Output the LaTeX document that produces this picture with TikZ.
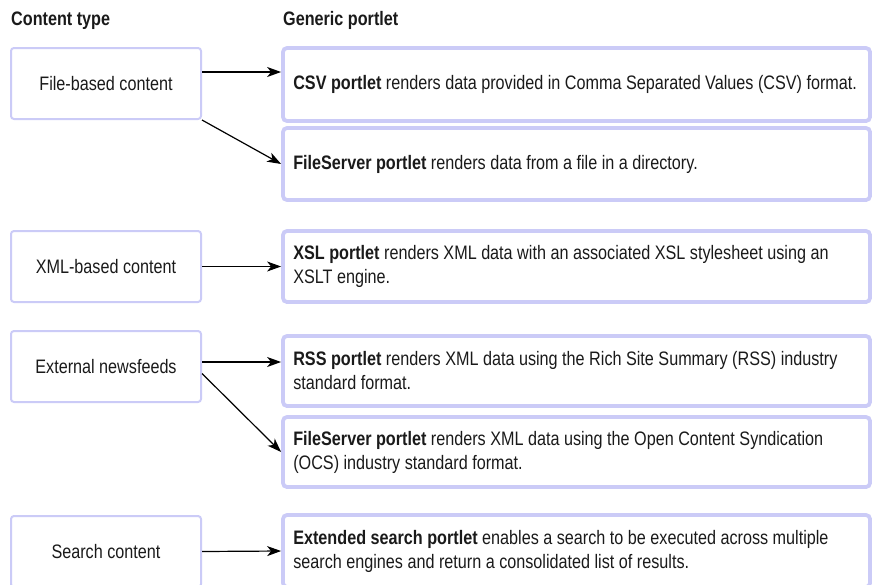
\documentclass[tikz,border=0pt]{standalone}
\usepackage{fontspec}
\setmainfont[FakeStretch=0.83]{Liberation Sans}
\usetikzlibrary{arrows.meta}
\definecolor{boxline}{HTML}{CBCBF7}
\definecolor{ink}{HTML}{1A1A1A}
\begin{document}
\begin{tikzpicture}[x=1pt,y=-1pt,
  every node/.style={font=\fontsize{19.5}{24}\selectfont, text=ink},
  ctype/.style={draw=boxline, line width=2pt, rounded corners=3pt, minimum width=190pt, minimum height=71pt, inner sep=0pt},
  portlet/.style={draw=boxline, line width=3.8pt, rounded corners=4pt, minimum width=587pt, inner sep=0pt},
  ptext/.style={anchor=west, align=left, inner sep=0pt},
  arr/.style={-{Stealth[length=14pt,width=10pt,inset=4pt]}, line width=1.2pt, draw=black},
  hdr/.style={font=\fontsize{19.5}{22}\selectfont\bfseries, anchor=base west, inner sep=0pt}]
\useasboundingbox (0,0) rectangle (877,584);

\node[hdr] (h1) at (11,25) {Content type};
\node[hdr] (h2) at (283,25) {Generic portlet};

\node[ctype] (L1) at (106,83.5) {File-based content};
\node[ctype] (L2) at (106,266.5) {XML-based content};
\node[ctype] (L3) at (106,366.5) {External newsfeeds};
\node[ctype] (L4) at (106,551.5) {Search content};

\node[portlet, minimum height=73pt] (R1) at (576.5,84.5) {};
\node[portlet, minimum height=72pt] (R2) at (576.5,164) {};
\node[portlet, minimum height=71pt] (R3) at (576.5,266.5) {};
\node[portlet, minimum height=70pt] (R4) at (576.5,371) {};
\node[portlet, minimum height=70pt] (R5) at (576.5,452) {};
\node[portlet, minimum height=72pt] (R6) at (576.5,551) {};

\node[ptext] (T1) at ([xshift=12pt]R1.west) {\textbf{CSV portlet} renders data provided in Comma Separated Values (CSV) format.};
\node[ptext] (T2) at ([xshift=12pt]R2.west) {\textbf{FileServer portlet} renders data from a file in a directory.};
\node[ptext] (T3) at ([xshift=12pt]R3.west) {\textbf{XSL portlet} renders XML data with an associated XSL stylesheet using an\\XSLT engine.};
\node[ptext] (T4) at ([xshift=12pt]R4.west) {\textbf{RSS portlet} renders XML data using the Rich Site Summary (RSS) industry\\standard format.};
\node[ptext] (T5) at ([xshift=12pt]R5.west) {\textbf{FileServer portlet} renders XML data using the Open Content Syndication\\(OCS) industry standard format.};
\node[ptext] (T6) at ([xshift=12pt]R6.west) {\textbf{Extended search portlet} enables a search to be executed across multiple\\search engines and return a consolidated list of results.};

\draw[arr] (L1.east |- 0,72) -- (R1.west |- 0,72);
\draw[arr] (L1.south east) -- (R2.west);
\draw[arr] (L2.east) -- (R3.west);
\draw[arr] (L3.east |- 0,362) -- (R4.west |- 0,362);
\draw[arr] ([yshift=-7pt]L3.east) -- (R5.west);
\draw[arr] (L4.east) -- (R6.west);
\end{tikzpicture}
\end{document}
